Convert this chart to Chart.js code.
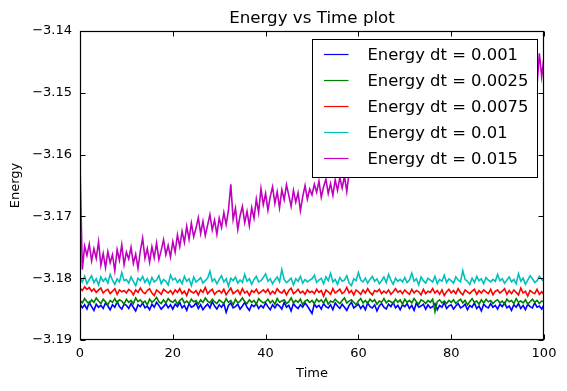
<!DOCTYPE html>
<html>
<head>
<meta charset="utf-8">
<script src="https://cdn.jsdelivr.net/npm/chart.js@4.4.1/dist/chart.umd.min.js"></script>
<style>
  html, body { margin: 0; padding: 0; background: #fff; }
  canvas { display: block; }
</style>
</head>
<body>
<canvas id="myChart" width="567" height="391"></canvas>
<script>
/* data */
var time = [0,0.5,1,1.5,2,2.5,3,3.5,4,4.5,5,5.5,6,6.5,7,7.5,8,8.5,9,9.5,
  10,10.5,11,11.5,12,12.5,13,13.5,14,14.5,15,15.5,16,16.5,17,17.5,18,18.5,19,19.5,
  20,20.5,21,21.5,22,22.5,23,23.5,24,24.5,25,25.5,26,26.5,27,27.5,28,28.5,29,29.5,
  30,30.5,31,31.5,32,32.5,33,33.5,34,34.5,35,35.5,36,36.5,37,37.5,38,38.5,39,39.5,
  40,40.5,41,41.5,42,42.5,43,43.5,44,44.5,45,45.5,46,46.5,47,47.5,48,48.5,49,49.5,
  50,50.5,51,51.5,52,52.5,53,53.5,54,54.5,55,55.5,56,56.5,57,57.5,58,58.5,59,59.5,
  60,60.5,61,61.5,62,62.5,63,63.5,64,64.5,65,65.5,66,66.5,67,67.5,68,68.5,69,69.5,
  70,70.5,71,71.5,72,72.5,73,73.5,74,74.5,75,75.5,76,76.5,77,77.5,78,78.5,79,79.5,
  80,80.5,81,81.5,82,82.5,83,83.5,84,84.5,85,85.5,86,86.5,87,87.5,88,88.5,89,89.5,
  90,90.5,91,91.5,92,92.5,93,93.5,94,94.5,95,95.5,96,96.5,97,97.5,98,98.5,99,99.5,100];

var energy001 = [
  -3.1841,-3.1848,-3.1843,-3.1850,-3.1839,-3.1846,-3.1852,-3.1842,-3.1847,-3.1844,-3.1849,-3.1840,-3.1845,-3.1851,-3.1843,-3.1847,-3.1838,-3.1846,-3.1850,-3.1842,
  -3.1844,-3.1849,-3.1841,-3.1847,-3.1853,-3.1843,-3.1846,-3.1840,-3.1848,-3.1845,-3.1851,-3.1842,-3.1847,-3.1839,-3.1844,-3.1850,-3.1846,-3.1841,-3.1848,-3.1843,
  -3.1850,-3.1842,-3.1846,-3.1839,-3.1848,-3.1844,-3.1852,-3.1841,-3.1847,-3.1845,-3.1840,-3.1849,-3.1843,-3.1851,-3.1846,-3.1842,-3.1848,-3.1838,-3.1845,-3.1850,
  -3.1843,-3.1847,-3.1841,-3.1855,-3.1844,-3.1840,-3.1848,-3.1846,-3.1842,-3.1850,-3.1845,-3.1839,-3.1847,-3.1852,-3.1843,-3.1846,-3.1841,-3.1849,-3.1844,-3.1848,
  -3.1840,-3.1846,-3.1851,-3.1843,-3.1848,-3.1842,-3.1845,-3.1850,-3.1839,-3.1847,-3.1844,-3.1853,-3.1841,-3.1846,-3.1849,-3.1843,-3.1847,-3.1840,-3.1845,-3.1851,
  -3.1857,-3.1842,-3.1847,-3.1844,-3.1850,-3.1841,-3.1846,-3.1848,-3.1843,-3.1851,-3.1840,-3.1845,-3.1849,-3.1842,-3.1847,-3.1852,-3.1844,-3.1839,-3.1848,-3.1845,
  -3.1842,-3.1849,-3.1844,-3.1851,-3.1840,-3.1846,-3.1848,-3.1843,-3.1853,-3.1845,-3.1841,-3.1847,-3.1850,-3.1842,-3.1846,-3.1839,-3.1848,-3.1844,-3.1851,-3.1843,
  -3.1846,-3.1841,-3.1849,-3.1844,-3.1852,-3.1840,-3.1847,-3.1845,-3.1842,-3.1850,-3.1843,-3.1848,-3.1846,-3.1841,-3.1851,-3.1844,-3.1847,-3.1839,-3.1849,-3.1845,
  -3.1843,-3.1850,-3.1845,-3.1841,-3.1848,-3.1846,-3.1842,-3.1851,-3.1844,-3.1847,-3.1840,-3.1849,-3.1845,-3.1853,-3.1842,-3.1846,-3.1848,-3.1841,-3.1847,-3.1844,
  -3.1850,-3.1842,-3.1846,-3.1840,-3.1848,-3.1845,-3.1852,-3.1843,-3.1847,-3.1841,-3.1849,-3.1844,-3.1851,-3.1842,-3.1846,-3.1848,-3.1840,-3.1847,-3.1845,-3.1850,-3.1843];

var energy0025 = [
  -3.1836,-3.1840,-3.1833,-3.1838,-3.1842,-3.1835,-3.1839,-3.1832,-3.1837,-3.1841,-3.1834,-3.1838,-3.1843,-3.1836,-3.1839,-3.1833,-3.1840,-3.1835,-3.1837,-3.1842,
  -3.1834,-3.1839,-3.1836,-3.1841,-3.1832,-3.1838,-3.1835,-3.1840,-3.1837,-3.1843,-3.1834,-3.1839,-3.1836,-3.1831,-3.1838,-3.1841,-3.1835,-3.1840,-3.1833,-3.1837,
  -3.1839,-3.1835,-3.1842,-3.1836,-3.1833,-3.1840,-3.1837,-3.1841,-3.1834,-3.1838,-3.1836,-3.1842,-3.1835,-3.1839,-3.1832,-3.1837,-3.1840,-3.1834,-3.1838,-3.1841,
  -3.1835,-3.1838,-3.1841,-3.1833,-3.1839,-3.1836,-3.1843,-3.1834,-3.1840,-3.1837,-3.1832,-3.1838,-3.1841,-3.1835,-3.1839,-3.1836,-3.1842,-3.1833,-3.1837,-3.1840,
  -3.1838,-3.1834,-3.1840,-3.1836,-3.1842,-3.1833,-3.1839,-3.1837,-3.1835,-3.1841,-3.1838,-3.1832,-3.1840,-3.1836,-3.1839,-3.1834,-3.1843,-3.1837,-3.1835,-3.1839,
  -3.1836,-3.1841,-3.1834,-3.1838,-3.1835,-3.1840,-3.1833,-3.1842,-3.1837,-3.1839,-3.1834,-3.1838,-3.1841,-3.1836,-3.1832,-3.1840,-3.1837,-3.1835,-3.1839,-3.1843,
  -3.1837,-3.1833,-3.1840,-3.1836,-3.1841,-3.1834,-3.1838,-3.1835,-3.1842,-3.1837,-3.1839,-3.1833,-3.1840,-3.1836,-3.1838,-3.1841,-3.1834,-3.1839,-3.1835,-3.1842,
  -3.1834,-3.1839,-3.1836,-3.1840,-3.1833,-3.1838,-3.1842,-3.1835,-3.1837,-3.1841,-3.1836,-3.1839,-3.1834,-3.1854,-3.1838,-3.1835,-3.1840,-3.1837,-3.1841,-3.1836,
  -3.1839,-3.1835,-3.1841,-3.1837,-3.1834,-3.1840,-3.1836,-3.1843,-3.1838,-3.1833,-3.1839,-3.1837,-3.1842,-3.1835,-3.1840,-3.1834,-3.1838,-3.1836,-3.1841,-3.1837,
  -3.1835,-3.1840,-3.1837,-3.1842,-3.1834,-3.1838,-3.1836,-3.1841,-3.1833,-3.1839,-3.1837,-3.1840,-3.1835,-3.1842,-3.1838,-3.1834,-3.1839,-3.1836,-3.1841,-3.1837,-3.1838];

var energy0075 = [
  -3.1816,-3.1820,-3.1814,-3.1818,-3.1815,-3.1821,-3.1817,-3.1823,-3.1819,-3.1816,-3.1824,-3.1820,-3.1818,-3.1825,-3.1821,-3.1817,-3.1826,-3.1819,-3.1822,-3.1820,
  -3.1824,-3.1818,-3.1821,-3.1827,-3.1819,-3.1823,-3.1816,-3.1822,-3.1825,-3.1820,-3.1817,-3.1824,-3.1828,-3.1819,-3.1822,-3.1826,-3.1818,-3.1821,-3.1824,-3.1820,
  -3.1826,-3.1819,-3.1823,-3.1817,-3.1825,-3.1821,-3.1828,-3.1818,-3.1822,-3.1824,-3.1820,-3.1827,-3.1819,-3.1823,-3.1815,-3.1825,-3.1821,-3.1818,-3.1826,-3.1822,
  -3.1820,-3.1824,-3.1818,-3.1827,-3.1821,-3.1816,-3.1825,-3.1822,-3.1819,-3.1826,-3.1817,-3.1824,-3.1821,-3.1828,-3.1820,-3.1823,-3.1818,-3.1825,-3.1822,-3.1819,
  -3.1823,-3.1818,-3.1826,-3.1821,-3.1825,-3.1817,-3.1822,-3.1824,-3.1819,-3.1827,-3.1820,-3.1816,-3.1825,-3.1822,-3.1818,-3.1824,-3.1821,-3.1826,-3.1819,-3.1823,
  -3.1821,-3.1825,-3.1818,-3.1823,-3.1820,-3.1829,-3.1819,-3.1822,-3.1826,-3.1817,-3.1824,-3.1821,-3.1818,-3.1825,-3.1822,-3.1815,-3.1824,-3.1820,-3.1827,-3.1819,
  -3.1822,-3.1826,-3.1819,-3.1824,-3.1817,-3.1823,-3.1827,-3.1820,-3.1822,-3.1818,-3.1825,-3.1821,-3.1824,-3.1819,-3.1826,-3.1822,-3.1817,-3.1823,-3.1820,-3.1825,
  -3.1819,-3.1823,-3.1826,-3.1818,-3.1824,-3.1820,-3.1822,-3.1827,-3.1818,-3.1825,-3.1821,-3.1823,-3.1817,-3.1824,-3.1820,-3.1826,-3.1819,-3.1828,-3.1822,-3.1818,
  -3.1824,-3.1820,-3.1825,-3.1817,-3.1823,-3.1827,-3.1819,-3.1822,-3.1825,-3.1821,-3.1818,-3.1826,-3.1820,-3.1824,-3.1819,-3.1822,-3.1825,-3.1818,-3.1827,-3.1821,
  -3.1819,-3.1824,-3.1821,-3.1817,-3.1826,-3.1820,-3.1825,-3.1819,-3.1823,-3.1827,-3.1816,-3.1824,-3.1821,-3.1829,-3.1820,-3.1823,-3.1825,-3.1818,-3.1826,-3.1822,-3.1827];

var energy01 = [
  -3.1799,-3.1806,-3.1797,-3.1809,-3.1802,-3.1796,-3.1807,-3.1801,-3.1811,-3.1798,-3.1805,-3.1800,-3.1808,-3.1794,-3.1803,-3.1810,-3.1801,-3.1806,-3.1791,-3.1804,
  -3.1802,-3.1808,-3.1798,-3.1805,-3.1812,-3.1800,-3.1804,-3.1797,-3.1807,-3.1801,-3.1810,-3.1799,-3.1806,-3.1803,-3.1796,-3.1809,-3.1802,-3.1805,-3.1811,-3.1795,
  -3.1803,-3.1800,-3.1807,-3.1802,-3.1809,-3.1797,-3.1805,-3.1801,-3.1812,-3.1798,-3.1806,-3.1803,-3.1799,-3.1808,-3.1804,-3.1800,-3.1789,-3.1805,-3.1801,-3.1809,
  -3.1802,-3.1796,-3.1806,-3.1801,-3.1813,-3.1800,-3.1804,-3.1798,-3.1808,-3.1803,-3.1807,-3.1794,-3.1805,-3.1801,-3.1810,-3.1802,-3.1797,-3.1806,-3.1804,-3.1799,
  -3.1793,-3.1805,-3.1801,-3.1809,-3.1803,-3.1798,-3.1806,-3.1786,-3.1802,-3.1807,-3.1804,-3.1800,-3.1811,-3.1801,-3.1805,-3.1797,-3.1808,-3.1802,-3.1806,-3.1803,
  -3.1801,-3.1795,-3.1807,-3.1803,-3.1800,-3.1809,-3.1798,-3.1804,-3.1792,-3.1806,-3.1802,-3.1810,-3.1799,-3.1805,-3.1803,-3.1796,-3.1808,-3.1812,-3.1801,-3.1804,
  -3.1791,-3.1803,-3.1806,-3.1800,-3.1808,-3.1802,-3.1797,-3.1805,-3.1801,-3.1809,-3.1804,-3.1798,-3.1807,-3.1794,-3.1803,-3.1810,-3.1800,-3.1805,-3.1802,-3.1806,
  -3.1799,-3.1807,-3.1803,-3.1792,-3.1805,-3.1801,-3.1811,-3.1798,-3.1804,-3.1808,-3.1800,-3.1803,-3.1806,-3.1797,-3.1809,-3.1802,-3.1805,-3.1795,-3.1807,-3.1801,
  -3.1804,-3.1808,-3.1798,-3.1803,-3.1806,-3.1788,-3.1802,-3.1805,-3.1810,-3.1800,-3.1807,-3.1797,-3.1804,-3.1801,-3.1809,-3.1799,-3.1803,-3.1806,-3.1802,-3.1805,
  -3.1794,-3.1804,-3.1801,-3.1808,-3.1803,-3.1798,-3.1806,-3.1802,-3.1809,-3.1793,-3.1805,-3.1800,-3.1810,-3.1803,-3.1796,-3.1801,-3.1807,-3.1804,-3.1797,-3.1802,-3.1805];

var energy015 = [
  -3.1614,-3.1786,-3.1748,-3.1763,-3.1745,-3.1772,-3.1752,-3.1768,-3.1741,-3.1779,-3.1760,-3.1783,-3.1757,-3.1775,-3.1762,-3.1788,-3.1754,-3.1771,-3.1746,-3.1778,
  -3.1758,-3.1769,-3.1750,-3.1776,-3.1761,-3.1784,-3.1756,-3.1735,-3.1768,-3.1752,-3.1774,-3.1749,-3.1767,-3.1743,-3.1770,-3.1755,-3.1738,-3.1762,-3.1747,-3.1766,
  -3.1741,-3.1758,-3.1730,-3.1749,-3.1724,-3.1742,-3.1716,-3.1737,-3.1711,-3.1733,-3.1719,-3.1702,-3.1728,-3.1708,-3.1731,-3.1714,-3.1697,-3.1722,-3.1706,-3.1729,
  -3.1703,-3.1718,-3.1694,-3.1713,-3.1690,-3.1648,-3.1705,-3.1687,-3.1721,-3.1699,-3.1684,-3.1710,-3.1692,-3.1715,-3.1686,-3.1703,-3.1672,-3.1694,-3.1655,-3.1681,
  -3.1663,-3.1690,-3.1668,-3.1652,-3.1679,-3.1660,-3.1686,-3.1657,-3.1673,-3.1649,-3.1666,-3.1684,-3.1658,-3.1677,-3.1662,-3.1691,-3.1668,-3.1650,-3.1672,-3.1656,
  -3.1665,-3.1648,-3.1661,-3.1643,-3.1669,-3.1652,-3.1640,-3.1663,-3.1647,-3.1666,-3.1641,-3.1658,-3.1637,-3.1654,-3.1635,-3.1660,-3.1628,-3.1622,-3.1616,-3.1631,
  -3.1612,-3.1624,-3.1606,-3.1619,-3.1601,-3.1615,-3.1597,-3.1610,-3.1593,-3.1608,-3.1589,-3.1602,-3.1584,-3.1599,-3.1580,-3.1594,-3.1577,-3.1590,-3.1572,-3.1587,
  -3.1569,-3.1582,-3.1565,-3.1579,-3.1560,-3.1575,-3.1557,-3.1571,-3.1553,-3.1566,-3.1549,-3.1562,-3.1546,-3.1559,-3.1541,-3.1555,-3.1538,-3.1551,-3.1534,-3.1548,
  -3.1530,-3.1543,-3.1526,-3.1540,-3.1522,-3.1536,-3.1519,-3.1532,-3.1515,-3.1529,-3.1511,-3.1525,-3.1508,-3.1521,-3.1504,-3.1518,-3.1500,-3.1514,-3.1497,-3.1510,
  -3.1493,-3.1507,-3.1490,-3.1503,-3.1486,-3.1500,-3.1483,-3.1497,-3.1479,-3.1494,-3.1476,-3.1490,-3.1472,-3.1487,-3.1469,-3.1483,-3.1466,-3.1488,-3.1436,-3.1474,-3.1442];

var seriesLabels = ['Energy dt = 0.001', 'Energy dt = 0.0025', 'Energy dt = 0.0075', 'Energy dt = 0.01', 'Energy dt = 0.015'];
var seriesValues = [energy001, energy0025, energy0075, energy01, energy015];
var seriesColors = ['#0000ff', '#008000', '#ff0000', '#00bfbf', '#bf00bf'];

Chart.defaults.font.family = 'DejaVu Sans';
Chart.defaults.color = '#000';

/* legend box inside the axes, drawn over the lines */
var boxLegend = {
  id: 'boxLegend',
  afterDatasetsDraw: function(chart) {
    var ctx = chart.ctx, a = chart.chartArea;
    var w = 225, h = 138;
    var x0 = Math.round(a.right - 7 - w) + 0.5, y0 = Math.round(a.top + 8) + 0.5;
    ctx.save();
    ctx.fillStyle = '#fff';
    ctx.fillRect(x0, y0, w, h);
    ctx.strokeStyle = '#000';
    ctx.lineWidth = 1;
    ctx.strokeRect(x0, y0, w, h);
    ctx.font = '16.4px "DejaVu Sans"';
    ctx.textBaseline = 'middle';
    ctx.fillStyle = '#000';
    chart.data.datasets.forEach(function(ds, i) {
      var yy = y0 + 15 + i * 26;
      ctx.strokeStyle = ds.borderColor;
      ctx.lineWidth = 1.2;
      ctx.beginPath();
      ctx.moveTo(x0 + 11.5, yy);
      ctx.lineTo(x0 + 36, yy);
      ctx.stroke();
      ctx.fillText(ds.label, x0 + 55, yy + 1);
    });
    ctx.restore();
  }
};

/* matplotlib style frame with inward ticks */
var frameTicks = {
  id: 'frameTicks',
  afterDraw: function(chart) {
    var ctx = chart.ctx, a = chart.chartArea;
    var L = Math.round(a.left) + 0.5, R = Math.round(a.right) - 0.5;
    var T = Math.round(a.top) + 0.5, B = Math.round(a.bottom) - 0.5;
    ctx.save();
    ctx.strokeStyle = '#000';
    ctx.lineWidth = 1;
    ctx.beginPath();
    chart.scales.x.ticks.forEach(function(t) {
      var p = Math.round(chart.scales.x.getPixelForValue(t.value)) + 0.5;
      ctx.moveTo(p, B); ctx.lineTo(p, B - 5);
      ctx.moveTo(p, T); ctx.lineTo(p, T + 5);
    });
    chart.scales.y.ticks.forEach(function(t) {
      var p = Math.round(chart.scales.y.getPixelForValue(t.value)) + 0.5;
      ctx.moveTo(L, p); ctx.lineTo(L + 5, p);
      ctx.moveTo(R, p); ctx.lineTo(R - 5, p);
    });
    ctx.stroke();
    ctx.lineWidth = 1.2;
    ctx.strokeRect(L, T, R - L, B - T);
    ctx.restore();
  }
};

var ctx = document.getElementById('myChart').getContext('2d');
var myChart = new Chart(ctx, {
  type: 'line',
  data: {
    datasets: seriesLabels.map(function(lab, k) {
      return {
        label: lab,
        data: time.map(function(t, i) { return {x: t, y: seriesValues[k][i]}; }),
        borderColor: seriesColors[k],
        backgroundColor: seriesColors[k],
        borderWidth: 1.6,
        pointRadius: 0,
        fill: false,
        tension: 0,
        order: seriesLabels.length - k
      };
    })
  },
  options: {
    responsive: false,
    animation: false,
    devicePixelRatio: 1,
    layout: { padding: { left: 0, right: 23, top: 0, bottom: 0 } },
    plugins: {
      legend: { display: false },
      tooltip: { enabled: false }
    },
    scales: {
      x: {
        type: 'linear',
        min: 0,
        max: 100,
        grid: { display: false, drawTicks: false },
        border: { display: false },
        ticks: {
          stepSize: 20,
          maxRotation: 0,
          padding: 6,
          color: '#000',
          font: { size: 13 }
        },
        title: {
          display: true,
          text: 'Time',
          color: '#000',
          font: { size: 13 },
          padding: { top: 0, bottom: 10 }
        },
        afterFit: function(s) { s.height = 51; }
      },
      // top axis only carries the plot title, centred over the axes like matplotlib
      x2: {
        type: 'linear',
        position: 'top',
        min: 0,
        max: 100,
        grid: { display: false, drawTicks: false },
        border: { display: false },
        ticks: { display: false },
        title: {
          display: true,
          text: 'Energy vs Time plot',
          color: '#000',
          font: { size: 16.7 },
          padding: { top: 8.5, bottom: 0 }
        },
        afterFit: function(s) { s.height = 31; }
      },
      y: {
        min: -3.19,
        max: -3.14,
        grid: { display: false, drawTicks: false },
        border: { display: false },
        ticks: {
          stepSize: 0.01,
          padding: 8,
          color: '#000',
          font: { size: 13 },
          callback: function(v) { return (v < 0 ? '\u2212' : '') + Math.abs(v).toFixed(2); }
        },
        title: {
          display: true,
          text: 'Energy',
          color: '#000',
          font: { size: 13 },
          padding: { top: 8, bottom: 0 }
        },
        afterFit: function(s) { s.width = 80; }
      }
    }
  },
  plugins: [boxLegend, frameTicks]
});
</script>
</body>
</html>
